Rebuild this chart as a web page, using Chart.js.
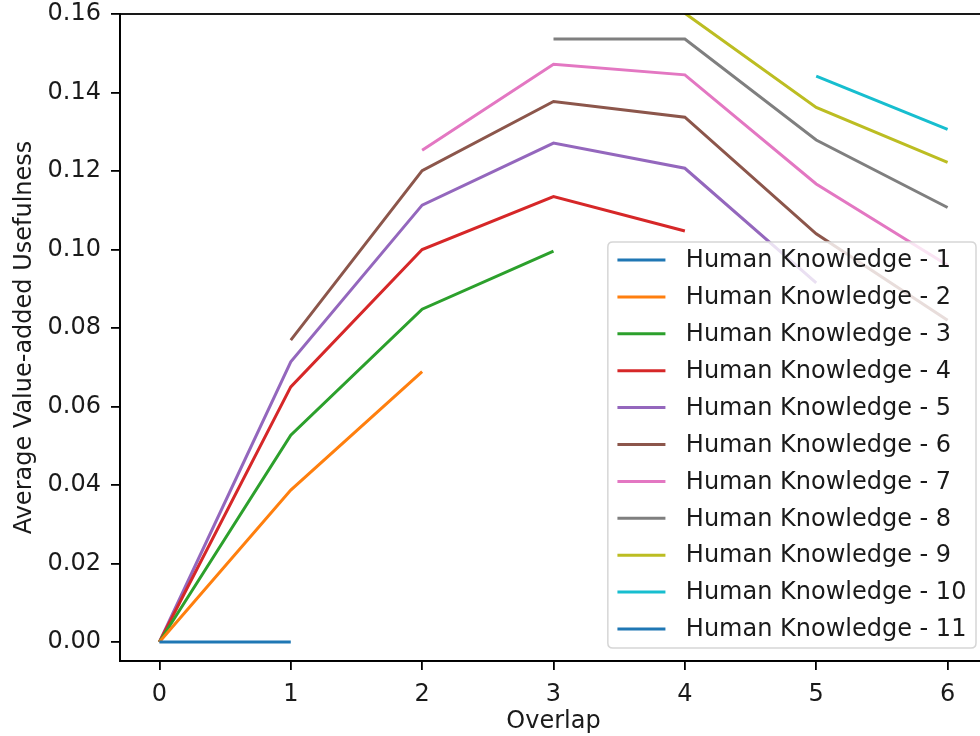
<!DOCTYPE html>
<html>
<head>
<meta charset="utf-8">
<script src="https://cdn.jsdelivr.net/npm/chart.js@4/dist/chart.umd.min.js"></script>
<style>
  html, body { margin: 0; padding: 0; background: #fff; overflow: hidden; }
  #wrap { width: 1000px; height: 736px; }
</style>
</head>
<body>
<div id="wrap"><canvas id="c" width="1000" height="736"></canvas></div>
<script>
// ---- data ----
const overlap = [0, 1, 2, 3, 4, 5, 6];
const xTicks = [0, 1, 2, 3, 4, 5, 6];
const yTicks = [0, 0.02, 0.04, 0.06, 0.08, 0.10, 0.12, 0.14, 0.16];
const seriesNames = [
  'Human Knowledge - 1', 'Human Knowledge - 2', 'Human Knowledge - 3',
  'Human Knowledge - 4', 'Human Knowledge - 5', 'Human Knowledge - 6',
  'Human Knowledge - 7', 'Human Knowledge - 8', 'Human Knowledge - 9',
  'Human Knowledge - 10', 'Human Knowledge - 11'
];
const hk1  = [0, 0, null, null, null, null, null];
const hk2  = [0, 0.0387, 0.0689, null, null, null, null];
const hk3  = [0, 0.0527, 0.0848, 0.0996, null, null, null];
const hk4  = [0, 0.0650, 0.1000, 0.1135, 0.1047, null, null];
const hk5  = [0, 0.0714, 0.1113, 0.1271, 0.1207, 0.0915, null];
const hk6  = [null, 0.0769, 0.1201, 0.1377, 0.1337, 0.1040, 0.0820];
const hk7  = [null, null, 0.1253, 0.1472, 0.1445, 0.1167, 0.0960];
const hk8  = [null, null, null, 0.1536, 0.1536, 0.1279, 0.1107];
const hk9  = [null, null, null, null, 0.1602, 0.1362, 0.1222];
const hk10 = [null, null, null, null, null, 0.1442, 0.1306];
const hk11 = [null, null, null, null, null, null, null];
const seriesValues = [hk1, hk2, hk3, hk4, hk5, hk6, hk7, hk8, hk9, hk10, hk11];

// ---- style ----
const palette = ['#1f77b4', '#ff7f0e', '#2ca02c', '#d62728', '#9467bd',
                 '#8c564b', '#e377c2', '#7f7f7f', '#bcbd22', '#17becf', '#1f77b4'];
const FONT = '"DejaVu Sans", "Liberation Sans", sans-serif';
const FS = 24;
const LW = 3;

const datasets = seriesValues.map((vals, i) => ({
  label: seriesNames[i],
  data: vals.map((v, j) => ({ x: overlap[j], y: v })),
  borderColor: palette[i],
  backgroundColor: palette[i],
  borderWidth: LW,
  pointRadius: 0,
  fill: false,
  tension: 0,
  spanGaps: false,
  clip: 0
}));

const framePlugin = {
  id: 'frame',
  afterDatasetsDraw(chart) {
    const { ctx, chartArea: a } = chart;
    ctx.save();
    ctx.strokeStyle = '#000';
    ctx.lineWidth = 1.8;
    ctx.strokeRect(a.left, a.top, a.right - a.left, a.bottom - a.top);
    ctx.restore();
  }
};

const legendPlugin = {
  id: 'mplLegend',
  afterDraw(chart) {
    const { ctx, chartArea: a } = chart;
    ctx.save();
    ctx.font = FS + 'px ' + FONT;
    const pad = 0.4 * FS, handle = 2.0 * FS, gap = 0.85 * FS, pitch = 36.9;
    let maxW = 0;
    chart.data.datasets.forEach(d => { maxW = Math.max(maxW, ctx.measureText(d.label).width); });
    const right = a.right - 11;
    const bottom = a.bottom - 13;
    const n = chart.data.datasets.length;
    const h = 2 * 0.5 * FS + (n - 1) * pitch + FS * 0.5 + 1;
    const w = pad + handle + gap + maxW + pad;
    const left = right - w, top = bottom - h;
    const r = 5;
    ctx.beginPath();
    ctx.moveTo(left + r, top);
    ctx.lineTo(right - r, top);
    ctx.quadraticCurveTo(right, top, right, top + r);
    ctx.lineTo(right, bottom - r);
    ctx.quadraticCurveTo(right, bottom, right - r, bottom);
    ctx.lineTo(left + r, bottom);
    ctx.quadraticCurveTo(left, bottom, left, bottom - r);
    ctx.lineTo(left, top + r);
    ctx.quadraticCurveTo(left, top, left + r, top);
    ctx.closePath();
    ctx.fillStyle = 'rgba(255,255,255,0.8)';
    ctx.fill();
    ctx.strokeStyle = '#d6d6d6';
    ctx.lineWidth = 1.5;
    ctx.stroke();
    ctx.textBaseline = 'middle';
    ctx.textAlign = 'left';
    chart.data.datasets.forEach((d, i) => {
      const cy = top + 18 + i * pitch;
      ctx.strokeStyle = d.borderColor;
      ctx.lineWidth = LW;
      ctx.beginPath();
      ctx.moveTo(left + pad, cy);
      ctx.lineTo(left + pad + handle, cy);
      ctx.stroke();
      ctx.fillStyle = '#1a1a1a';
      ctx.fillText(d.label, left + pad + handle + gap, cy + 1);
    });
    ctx.restore();
  }
};

new Chart(document.getElementById('c'), {
  type: 'line',
  data: { datasets },
  options: {
    responsive: false,
    animation: false,
    events: [],
    layout: { padding: { top: 0, right: 13, left: 0, bottom: 0 } },
    plugins: { legend: { display: false }, tooltip: { enabled: false }, title: { display: false } },
    scales: {
      x: {
        type: 'linear',
        min: -0.3,
        max: 6.3,
        afterBuildTicks: s => { s.ticks = xTicks.map(v => ({ value: v })); },
        afterFit: s => { s.height = 75; },
        grid: { drawOnChartArea: false, drawTicks: true, tickLength: 9, color: '#000', lineWidth: 1.8 },
        border: { display: true, color: '#000', width: 1.8 },
        ticks: {
          color: '#1a1a1a', font: { family: FONT, size: FS }, padding: 10,
          maxRotation: 0, autoSkip: false,
          callback: v => String(v)
        },
        title: {
          display: true, text: 'Overlap', color: '#1a1a1a',
          font: { family: FONT, size: FS }, padding: { top: 3.6, bottom: 0 }
        }
      },
      y: {
        type: 'linear',
        min: -0.00484,
        max: 0.16,
        afterBuildTicks: s => { s.ticks = yTicks.map(v => ({ value: v })); },
        afterFit: s => { s.width = 120; s.paddingTop = 14; },
        grid: { drawOnChartArea: false, drawTicks: true, tickLength: 9, color: '#000', lineWidth: 1.8 },
        border: { display: true, color: '#000', width: 1.8 },
        ticks: {
          color: '#1a1a1a', font: { family: FONT, size: FS }, padding: 10,
          autoSkip: false,
          callback: v => Number(v).toFixed(2)
        },
        title: {
          display: true, text: 'Average Value-added Usefulness', color: '#1a1a1a',
          font: { family: FONT, size: FS }, padding: { top: 10.6, bottom: 0 }
        }
      }
    }
  },
  plugins: [framePlugin, legendPlugin]
});
</script>
</body>
</html>
